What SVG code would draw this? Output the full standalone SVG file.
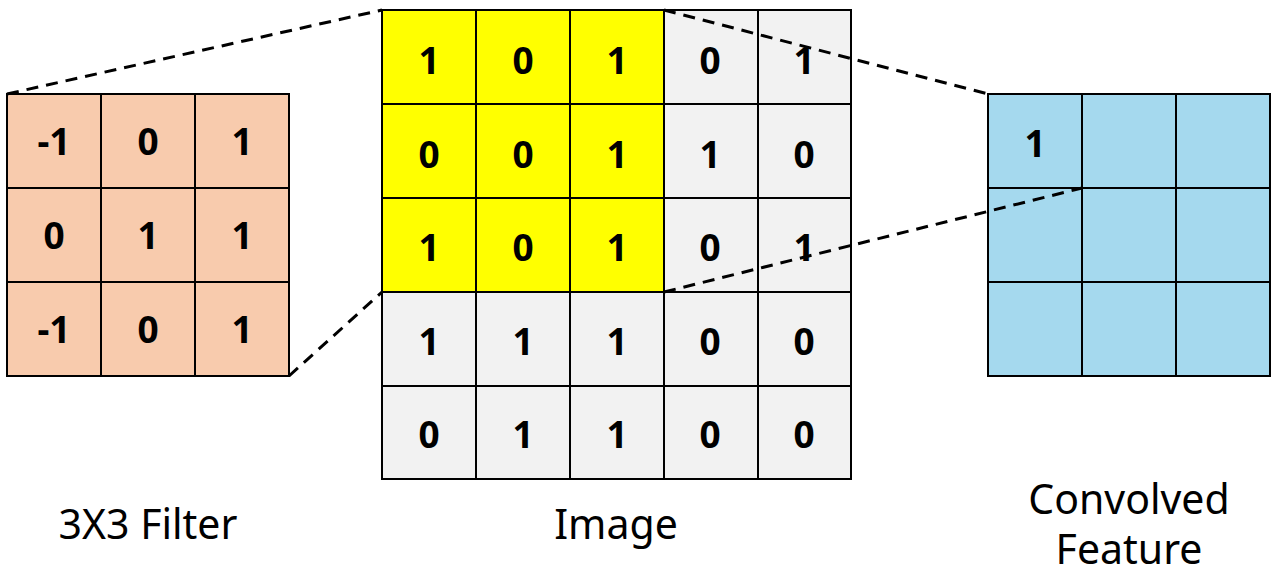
<svg xmlns="http://www.w3.org/2000/svg" width="1280" height="576" viewBox="0 0 1280 576">
<style>
.c{stroke:#000;stroke-width:2}
.f{fill:#f8cbad}
.y{fill:#ffff00}
.g{fill:#f2f2f2}
.b{fill:#a5d9ee}
.n{font-family:"Noto Sans","Noto Sans CJK KR",sans-serif;font-weight:bold;font-size:37px;text-anchor:middle;fill:#000}
.l{font-family:"Noto Sans","Noto Sans CJK KR",sans-serif;font-size:41px;text-anchor:middle;fill:#000}
.d{stroke:#000;stroke-width:3;stroke-dasharray:12 8;fill:none}
</style>
<rect width="1280" height="576" fill="#fff"/>
<g id="filter">
<rect class="c f" x="7" y="94" width="94" height="94"/><rect class="c f" x="101" y="94" width="94" height="94"/><rect class="c f" x="195" y="94" width="94" height="94"/>
<rect class="c f" x="7" y="188" width="94" height="94"/><rect class="c f" x="101" y="188" width="94" height="94"/><rect class="c f" x="195" y="188" width="94" height="94"/>
<rect class="c f" x="7" y="282" width="94" height="94"/><rect class="c f" x="101" y="282" width="94" height="94"/><rect class="c f" x="195" y="282" width="94" height="94"/>
<text class="n" x="54" y="155">-1</text><text class="n" x="148" y="155">0</text><text class="n" x="242" y="155">1</text>
<text class="n" x="54" y="249">0</text><text class="n" x="148" y="249">1</text><text class="n" x="242" y="249">1</text>
<text class="n" x="54" y="343">-1</text><text class="n" x="148" y="343">0</text><text class="n" x="242" y="343">1</text>
<text class="l" x="148" y="539">3X3 Filter</text>
</g>
<g id="image">
<rect class="c y" x="382" y="10" width="94" height="94"/><rect class="c y" x="476" y="10" width="94" height="94"/><rect class="c y" x="570" y="10" width="94" height="94"/><rect class="c g" x="664" y="10" width="94" height="94"/><rect class="c g" x="758" y="10" width="93" height="94"/>
<rect class="c y" x="382" y="104" width="94" height="94"/><rect class="c y" x="476" y="104" width="94" height="94"/><rect class="c y" x="570" y="104" width="94" height="94"/><rect class="c g" x="664" y="104" width="94" height="94"/><rect class="c g" x="758" y="104" width="93" height="94"/>
<rect class="c y" x="382" y="198" width="94" height="94"/><rect class="c y" x="476" y="198" width="94" height="94"/><rect class="c y" x="570" y="198" width="94" height="94"/><rect class="c g" x="664" y="198" width="94" height="94"/><rect class="c g" x="758" y="198" width="93" height="94"/>
<rect class="c g" x="382" y="292" width="94" height="94"/><rect class="c g" x="476" y="292" width="94" height="94"/><rect class="c g" x="570" y="292" width="94" height="94"/><rect class="c g" x="664" y="292" width="94" height="94"/><rect class="c g" x="758" y="292" width="93" height="94"/>
<rect class="c g" x="382" y="386" width="94" height="93"/><rect class="c g" x="476" y="386" width="94" height="93"/><rect class="c g" x="570" y="386" width="94" height="93"/><rect class="c g" x="664" y="386" width="94" height="93"/><rect class="c g" x="758" y="386" width="93" height="93"/>
<text class="n" x="429" y="74">1</text><text class="n" x="523" y="74">0</text><text class="n" x="617" y="74">1</text><text class="n" x="710" y="74">0</text><text class="n" x="804" y="74">1</text>
<text class="n" x="429" y="168">0</text><text class="n" x="523" y="168">0</text><text class="n" x="617" y="168">1</text><text class="n" x="710" y="168">1</text><text class="n" x="804" y="168">0</text>
<text class="n" x="429" y="261">1</text><text class="n" x="523" y="261">0</text><text class="n" x="617" y="261">1</text><text class="n" x="710" y="261">0</text><text class="n" x="804" y="261">1</text>
<text class="n" x="429" y="355">1</text><text class="n" x="523" y="355">1</text><text class="n" x="617" y="355">1</text><text class="n" x="710" y="355">0</text><text class="n" x="804" y="355">0</text>
<text class="n" x="429" y="448">0</text><text class="n" x="523" y="448">1</text><text class="n" x="617" y="448">1</text><text class="n" x="710" y="448">0</text><text class="n" x="804" y="448">0</text>
<text class="l" x="616" y="539">Image</text>
</g>
<g id="convolved">
<rect class="c b" x="988" y="94" width="94" height="94"/><rect class="c b" x="1082" y="94" width="94" height="94"/><rect class="c b" x="1176" y="94" width="94" height="94"/>
<rect class="c b" x="988" y="188" width="94" height="94"/><rect class="c b" x="1082" y="188" width="94" height="94"/><rect class="c b" x="1176" y="188" width="94" height="94"/>
<rect class="c b" x="988" y="282" width="94" height="94"/><rect class="c b" x="1082" y="282" width="94" height="94"/><rect class="c b" x="1176" y="282" width="94" height="94"/>
<text class="n" x="1035" y="157">1</text>
<text class="l" x="1129" y="514">Convolved</text>
<text class="l" x="1129" y="564">Feature</text>
</g>
<g id="connectors">
<line class="d" x1="7" y1="94" x2="382" y2="10"/>
<line class="d" x1="289" y1="376" x2="382" y2="292"/>
<line class="d" x1="664" y1="10" x2="988" y2="94"/>
<line class="d" x1="664" y1="292" x2="1082" y2="188"/>
</g>
</svg>
